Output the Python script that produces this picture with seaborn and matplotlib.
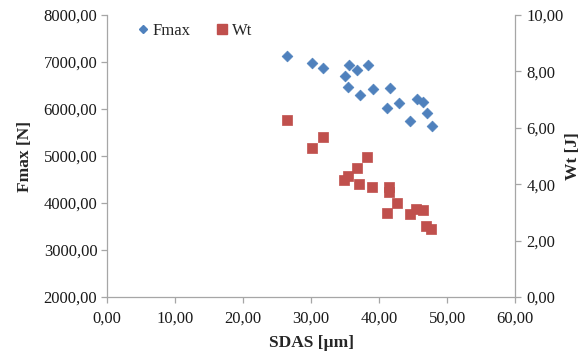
import matplotlib
matplotlib.use("Agg")
import matplotlib.pyplot as plt
import matplotlib.ticker as mticker
from matplotlib.lines import Line2D
import seaborn as sns
import pandas as pd

# SDAS vs. maximum force
sdas_f = [26.4, 30.2, 31.8, 35.6, 36.8, 38.3, 35.0, 35.4, 37.2, 39.1,
          41.6, 41.2, 42.9, 45.6, 46.5, 47.0, 44.6, 47.8]
fmax = [7120, 6970, 6870, 6930, 6830, 6940, 6710, 6470, 6300, 6420,
        6450, 6030, 6120, 6210, 6160, 5920, 5740, 5650]

# SDAS vs. work
sdas_w = [26.4, 31.7, 30.1, 38.2, 36.7, 35.5, 34.9, 37.1, 39.0, 41.5,
          41.5, 42.7, 41.1, 44.6, 45.5, 46.4, 46.9, 47.7]
wt = [6.27, 5.68, 5.29, 4.96, 4.59, 4.29, 4.15, 4.01, 3.90, 3.91,
      3.72, 3.32, 2.99, 2.94, 3.12, 3.09, 2.53, 2.40]

blue = "#4F81BD"
red = "#C0504D"
grey = "#A6A6A6"

sns.set_theme(style="white")
plt.rcParams["font.family"] = ["Liberation Serif", "DejaVu Serif"]

df_f = pd.DataFrame({"SDAS": sdas_f, "Fmax": fmax})
df_w = pd.DataFrame({"SDAS": sdas_w, "Wt": wt})

fig = plt.figure(figsize=(5.82, 3.58), dpi=100)
ax = fig.add_axes([0.184, 0.170, 0.701, 0.788])
ax2 = ax.twinx()

sns.scatterplot(data=df_f, x="SDAS", y="Fmax", ax=ax, marker="D", s=30,
                color=blue, edgecolor=blue, linewidth=0.5, zorder=3)
sns.scatterplot(data=df_w, x="SDAS", y="Wt", ax=ax2, marker="s", s=62,
                color=red, edgecolor=red, linewidth=0.5, zorder=3)

ax.set_xlim(0, 60)
ax.set_ylim(2000, 8000)
ax2.set_ylim(0, 10)
ax.set_xticks(range(0, 61, 10))
ax.set_yticks(range(2000, 8001, 1000))
ax2.set_yticks(range(0, 11, 2))

comma = mticker.FuncFormatter(lambda v, p: f"{v:.2f}".replace(".", ","))
ax.xaxis.set_major_formatter(comma)
ax.yaxis.set_major_formatter(comma)
ax2.yaxis.set_major_formatter(comma)

for a in (ax, ax2):
    a.spines["top"].set_visible(False)
    for s in ("left", "right", "bottom"):
        a.spines[s].set_color(grey)
        a.spines[s].set_linewidth(0.9)
    a.tick_params(axis="both", which="major", direction="out", length=4,
                  width=0.9, color=grey, labelsize=12, labelcolor="#1a1a1a",
                  pad=3)
ax.spines["right"].set_visible(False)
ax2.spines["left"].set_visible(False)
ax2.spines["bottom"].set_visible(False)
ax.tick_params(axis="x", bottom=True, pad=6)
ax.tick_params(axis="y", left=True)
ax2.tick_params(axis="y", right=True, pad=4)

ax.set_xlabel("SDAS [µm]", fontsize=12.5, fontweight="bold", labelpad=6)
ax.set_ylabel("Fmax [N]", fontsize=12.5, fontweight="bold", labelpad=8)
ax2.set_ylabel("Wt [J]", fontsize=12.5, fontweight="bold", labelpad=1)

handles = [
    Line2D([], [], marker="D", linestyle="", color=blue, markersize=4.5),
    Line2D([], [], marker="s", linestyle="", color=red, markersize=7),
]
ax.legend(handles, ["Fmax", "Wt"], loc="upper left", ncol=2, frameon=False,
          bbox_to_anchor=(0.038, 1.026), fontsize=12, handlelength=0.6,
          handletextpad=0.3, columnspacing=1.6)

fig.savefig("out.png", dpi=100)
